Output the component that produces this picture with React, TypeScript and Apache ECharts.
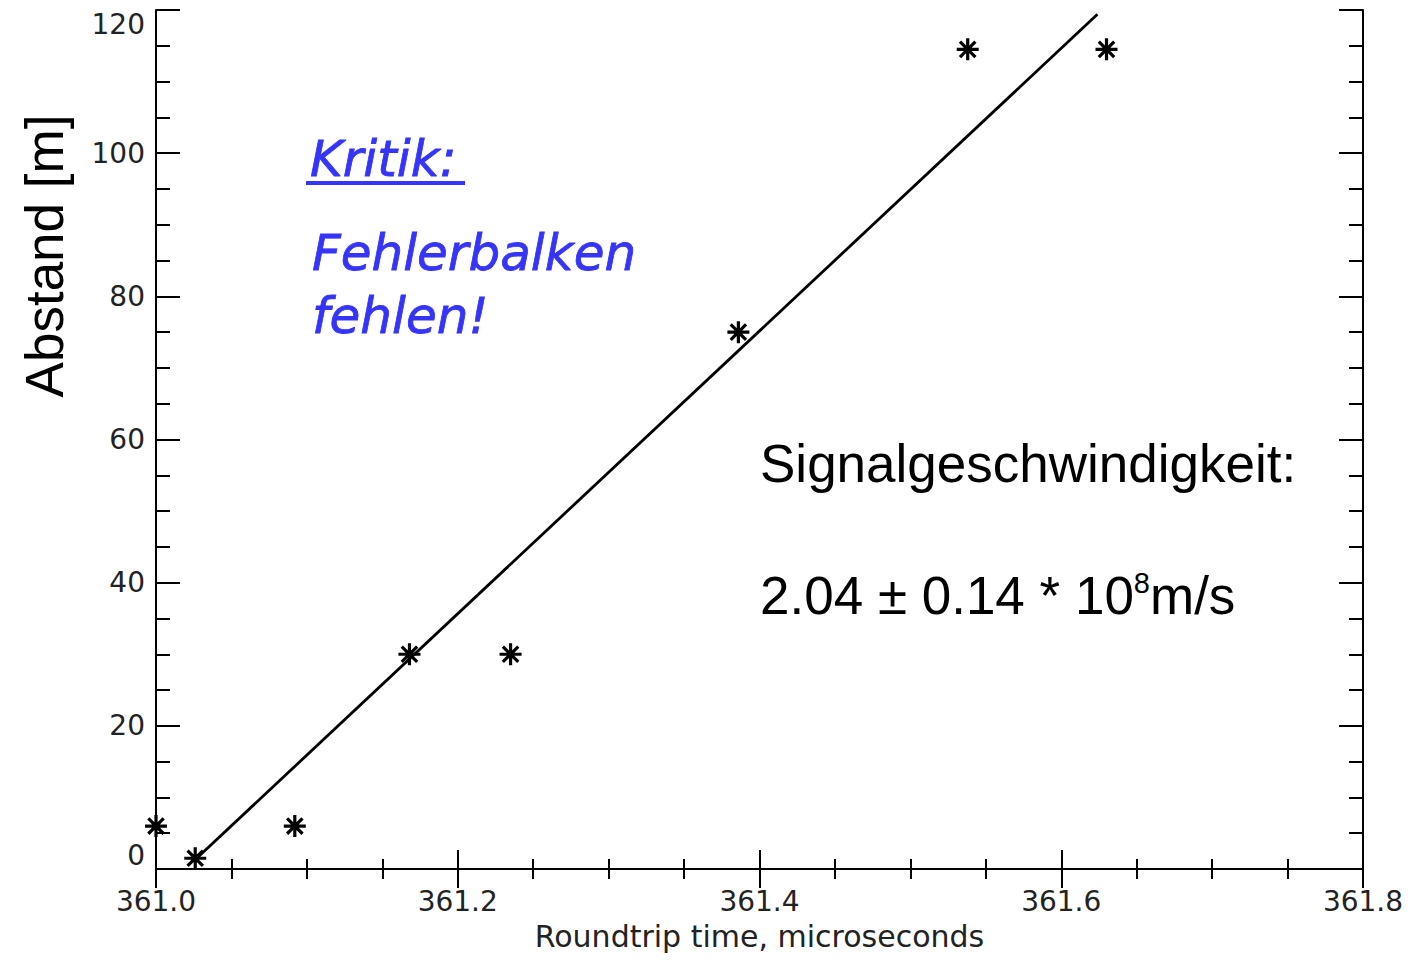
import React, { useEffect, useRef } from "react";
import * as echarts from "echarts";

const timeX = [361.0, 361.026, 361.092, 361.168, 361.235, 361.386, 361.538, 361.63];
const distY = [6, 1.5, 6, 30, 30, 75, 114.5, 114.5];
const fitX = [361.027, 361.624];
const fitY = [1.5, 119.4];
const xTitle = "Roundtrip time, microseconds";
const yTitle = "Abstand [m]";
const noteHead = "Kritik:";
const noteLines = ["Fehlerbalken", "fehlen!"];
const speedLabel = "Signalgeschwindigkeit:";

const tickFont = "DejaVu Sans";
const blue = "#3434fa";

export default function App() {
  const ref = useRef<HTMLDivElement>(null);
  useEffect(() => {
    if (!ref.current) return;
    const chart = echarts.init(ref.current, undefined, { renderer: "svg" });
    const axisLine = { show: true, lineStyle: { color: "#000", width: 2 } };
    const xCommon = {
      type: "value",
      min: 361.0,
      max: 361.8,
      interval: 0.2,
      splitLine: { show: false },
      axisLine,
      axisTick: { show: true, inside: true, length: 19, lineStyle: { color: "#000", width: 2 } },
      minorTick: { show: true, splitNumber: 4, length: 10, lineStyle: { color: "#000", width: 2 } },
    };
    const yCommon = {
      type: "value",
      min: 0,
      max: 120,
      interval: 20,
      splitLine: { show: false },
      axisLine,
      axisTick: { show: true, inside: true, length: 24, lineStyle: { color: "#000", width: 2 } },
      minorTick: { show: true, splitNumber: 4, length: 14, lineStyle: { color: "#000", width: 2 } },
    };
    const starPath = "path://M10,0L10,20M0,10L20,10M3,3L17,17M3,17L17,3";
    chart.setOption({
      animation: false,
      backgroundColor: "#fff",
      grid: { left: 156, top: 10, right: 48, bottom: 91, containLabel: false },
      xAxis: [
        {
          ...xCommon,
          position: "bottom",
          name: xTitle,
          nameLocation: "middle",
          nameGap: 52,
          nameTextStyle: { fontFamily: tickFont, fontSize: 30, color: "#222" },
          axisLabel: {
            show: true,
            margin: 18,
            fontFamily: tickFont,
            fontSize: 28,
            color: "#222",
            showMinLabel: true,
            showMaxLabel: true,
            formatter: (v: number) => v.toFixed(1),
          },
        },
        { ...xCommon, position: "top", axisLabel: { show: false } },
      ],
      yAxis: [
        {
          ...yCommon,
          position: "left",
          axisLabel: {
            show: true,
            margin: 11,
            fontFamily: tickFont,
            fontSize: 28,
            color: "#222",
            verticalAlignMinLabel: "bottom",
            verticalAlignMaxLabel: "top",
          },
        },
        { ...yCommon, position: "right", axisLabel: { show: false } },
      ],
      series: [
        {
          type: "line",
          data: fitX.map((x, i) => [x, fitY[i]]),
          symbol: "none",
          lineStyle: { color: "#000", width: 2.8 },
          xAxisIndex: 0,
          yAxisIndex: 0,
          z: 2,
        },
        {
          type: "scatter",
          data: timeX.map((x, i) => [x, distY[i]]),
          symbol: starPath,
          symbolSize: 22,
          itemStyle: { color: "#000", borderColor: "#000", borderWidth: 3.2, opacity: 1 },
          xAxisIndex: 0,
          yAxisIndex: 0,
          z: 3,
        },
      ],
      graphic: [
        {
          type: "text",
          x: 44,
          y: 256,
          rotation: Math.PI / 2,
          style: {
            text: yTitle,
            font: '53px "Liberation Sans", Arial, sans-serif',
            fill: "#000",
            align: "center",
            verticalAlign: "middle",
          },
        },
        {
          type: "text",
          x: 310,
          y: 159,
          style: {
            text: noteHead,
            font: 'italic 50px "DejaVu Sans", sans-serif',
            fill: blue,
            stroke: blue,
            lineWidth: 0.8,
            align: "left",
            verticalAlign: "middle",
          },
        },
        {
          type: "rect",
          shape: { x: 306, y: 181, width: 159, height: 4 },
          style: { fill: blue },
        },
        {
          type: "text",
          x: 312,
          y: 253,
          style: {
            text: noteLines[0],
            font: 'italic 50px "DejaVu Sans", sans-serif',
            fill: blue,
            stroke: blue,
            lineWidth: 0.8,
            align: "left",
            verticalAlign: "middle",
          },
        },
        {
          type: "text",
          x: 312,
          y: 316,
          style: {
            text: noteLines[1],
            font: 'italic 50px "DejaVu Sans", sans-serif',
            fill: blue,
            stroke: blue,
            lineWidth: 0.8,
            align: "left",
            verticalAlign: "middle",
          },
        },
        {
          type: "text",
          x: 760,
          y: 463,
          style: {
            text: speedLabel,
            font: '53px "Liberation Sans", Arial, sans-serif',
            fill: "#000",
            align: "left",
            verticalAlign: "middle",
          },
        },
        {
          type: "text",
          x: 760,
          y: 595,
          style: {
            text: "{a|2.04 ± 0.14 * 10}{b|8}{a|m/s}",
            align: "left",
            verticalAlign: "middle",
            rich: {
              a: { fontFamily: '"Liberation Sans", Arial, sans-serif', fontSize: 53, color: "#000" },
              b: {
                fontFamily: '"Liberation Sans", Arial, sans-serif',
                fontSize: 29,
                color: "#000",
                verticalAlign: "top",
              },
            },
          },
        },
      ],
    });
    return () => chart.dispose();
  }, []);
  return (
    <div
      ref={ref}
      style={{ position: "fixed", left: 0, top: 0, width: 1411, height: 960, background: "#fff" }}
    />
  );
}
